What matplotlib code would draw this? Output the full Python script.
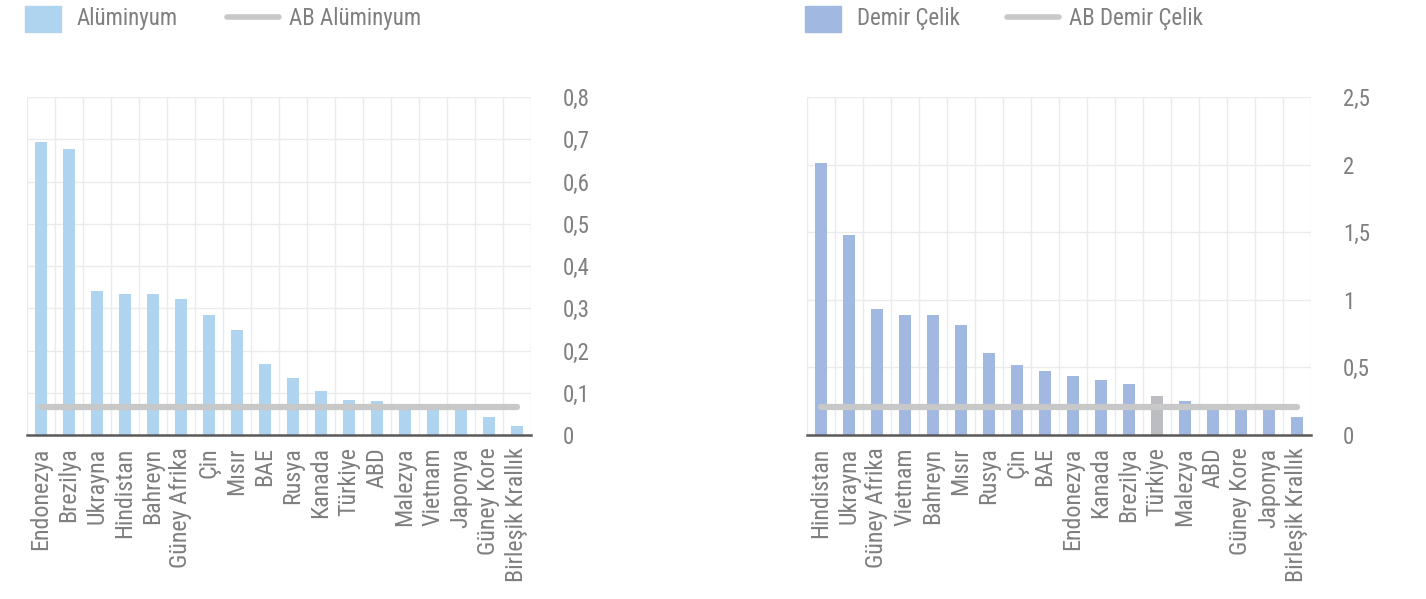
import matplotlib
matplotlib.use("Agg")
import matplotlib.pyplot as plt
from matplotlib import font_manager
from matplotlib.patches import Rectangle
from matplotlib.lines import Line2D
from matplotlib.ticker import FuncFormatter, FixedLocator
import numpy as np

# ---- data ----
alu_countries = ["Endonezya", "Brezilya", "Ukrayna", "Hindistan", "Bahreyn", "Güney Afrika",
                 "Çin", "Mısır", "BAE", "Rusya", "Kanada", "Türkiye", "ABD", "Malezya",
                 "Vietnam", "Japonya", "Güney Kore", "Birleşik Krallık"]
alu_values = [0.694, 0.677, 0.341, 0.334, 0.334, 0.322, 0.284, 0.249, 0.168, 0.135,
              0.104, 0.083, 0.080, 0.068, 0.068, 0.069, 0.043, 0.022]
alu_ab = 0.066

steel_countries = ["Hindistan", "Ukrayna", "Güney Afrika", "Vietnam", "Bahreyn", "Mısır",
                   "Rusya", "Çin", "BAE", "Endonezya", "Kanada", "Brezilya", "Türkiye",
                   "Malezya", "ABD", "Güney Kore", "Japonya", "Birleşik Krallık"]
steel_values = [2.01, 1.48, 0.93, 0.89, 0.89, 0.81, 0.61, 0.52, 0.47, 0.44,
                0.41, 0.38, 0.29, 0.25, 0.23, 0.20, 0.20, 0.133]
steel_ab = 0.21

alu_ticks = [0, 0.1, 0.2, 0.3, 0.4, 0.5, 0.6, 0.7, 0.8]
steel_ticks = [0, 0.5, 1, 1.5, 2, 2.5]

# ---- font: look for an installed condensed / narrow face ----
cand = []
for f in font_manager.fontManager.ttflist:
    nm = (f.fname + " " + f.name).lower()
    if ("condensed" in nm or "narrow" in nm) and "bold" not in nm and "italic" not in nm \
            and "oblique" not in nm:
        cand.append(f)
pref = ["roboto", "open", "noto", "liberation", "dejavu"]
cand.sort(key=lambda f: next((i for i, p in enumerate(pref) if p in f.fname.lower()), 99))
FS = 16.5
FSX = 17.3
if cand:
    font_manager.fontManager.addfont(cand[0].fname)
    FAM = [cand[0].name, 'DejaVu Sans']
    STRETCH = cand[0].stretch
else:
    FAM = ['DejaVu Sans']
    STRETCH = 'normal'
    FS = 13.5
    FSX = 13.5
plt.rcParams['font.family'] = FAM
plt.rcParams['font.stretch'] = STRETCH

alu_color = "#AED4F0"
steel_color = "#A1B9E0"
tr_color = "#BCBDC0"
line_color = "#C8C8C8"
text_color = "#7F7F7F"
grid_color = "#EBEBEB"

W, H = 1426, 599
fig = plt.figure(figsize=(W / 100, H / 100), dpi=100)

def fx(px):
    return px / W

def fy(py):
    return 1 - py / H

def make_panel(left_px, cats, vals, ab, ticks, color, highlight=None):
    ax = fig.add_axes([fx(left_px), fy(435), fx(504), (435 - 97) / H])
    x = np.arange(len(cats))
    colors = [tr_color if c == highlight else color for c in cats]
    ax.bar(x, vals, width=0.4, color=colors, zorder=2)
    ax.plot(x, [ab] * len(x), color=line_color, lw=4.5, solid_capstyle='round', zorder=3)
    ax.set_xlim(-0.5, len(cats) - 0.5)
    ax.set_ylim(0, ticks[-1])
    ax.set_xticks(x)
    ax.set_xticklabels(cats, rotation=90, fontsize=FSX, color=text_color)
    ax.xaxis.set_minor_locator(FixedLocator(np.arange(-0.5, len(cats), 1.0)))
    ax.set_yticks(ticks)
    ax.yaxis.set_major_formatter(FuncFormatter(lambda v, p: ("%g" % v).replace('.', ',')))
    ax.yaxis.tick_right()
    for lab in ax.get_yticklabels():
        lab.set_horizontalalignment('left')
    ax.tick_params(axis='y', length=0, pad=23, labelsize=FS, labelcolor=text_color)
    ax.tick_params(axis='x', which='both', length=0, pad=9)
    ax.grid(axis='y', which='major', color=grid_color, lw=1, zorder=0)
    ax.grid(axis='x', which='minor', color=grid_color, lw=1, zorder=0)
    ax.grid(axis='x', which='major', visible=False)
    for s in ['top', 'left', 'right']:
        ax.spines[s].set_visible(False)
    ax.spines['bottom'].set_color('#595959')
    ax.spines['bottom'].set_linewidth(1.8)
    ax.spines['bottom'].set_zorder(4)
    return ax

make_panel(27, alu_countries, alu_values, alu_ab, alu_ticks, alu_color)
make_panel(807, steel_countries, steel_values, steel_ab, steel_ticks, steel_color, highlight="Türkiye")

def legend(x0, color, label1, label2):
    fig.add_artist(Rectangle((fx(x0), fy(32)), fx(36), 26 / H, color=color,
                             transform=fig.transFigure))
    fig.text(fx(x0 + 52), fy(19), label1, fontsize=FS, color=text_color,
             va='center', ha='left')
    fig.add_artist(Line2D([fx(x0 + 202), fx(x0 + 254)], [fy(17), fy(17)], color=line_color,
                          lw=4, solid_capstyle='round', transform=fig.transFigure))
    fig.text(fx(x0 + 264), fy(19), label2, fontsize=FS, color=text_color,
             va='center', ha='left')

legend(25, alu_color, "Alüminyum", "AB Alüminyum")
legend(805, steel_color, "Demir Çelik", "AB Demir Çelik")

fig.savefig("out.png", dpi=100)
